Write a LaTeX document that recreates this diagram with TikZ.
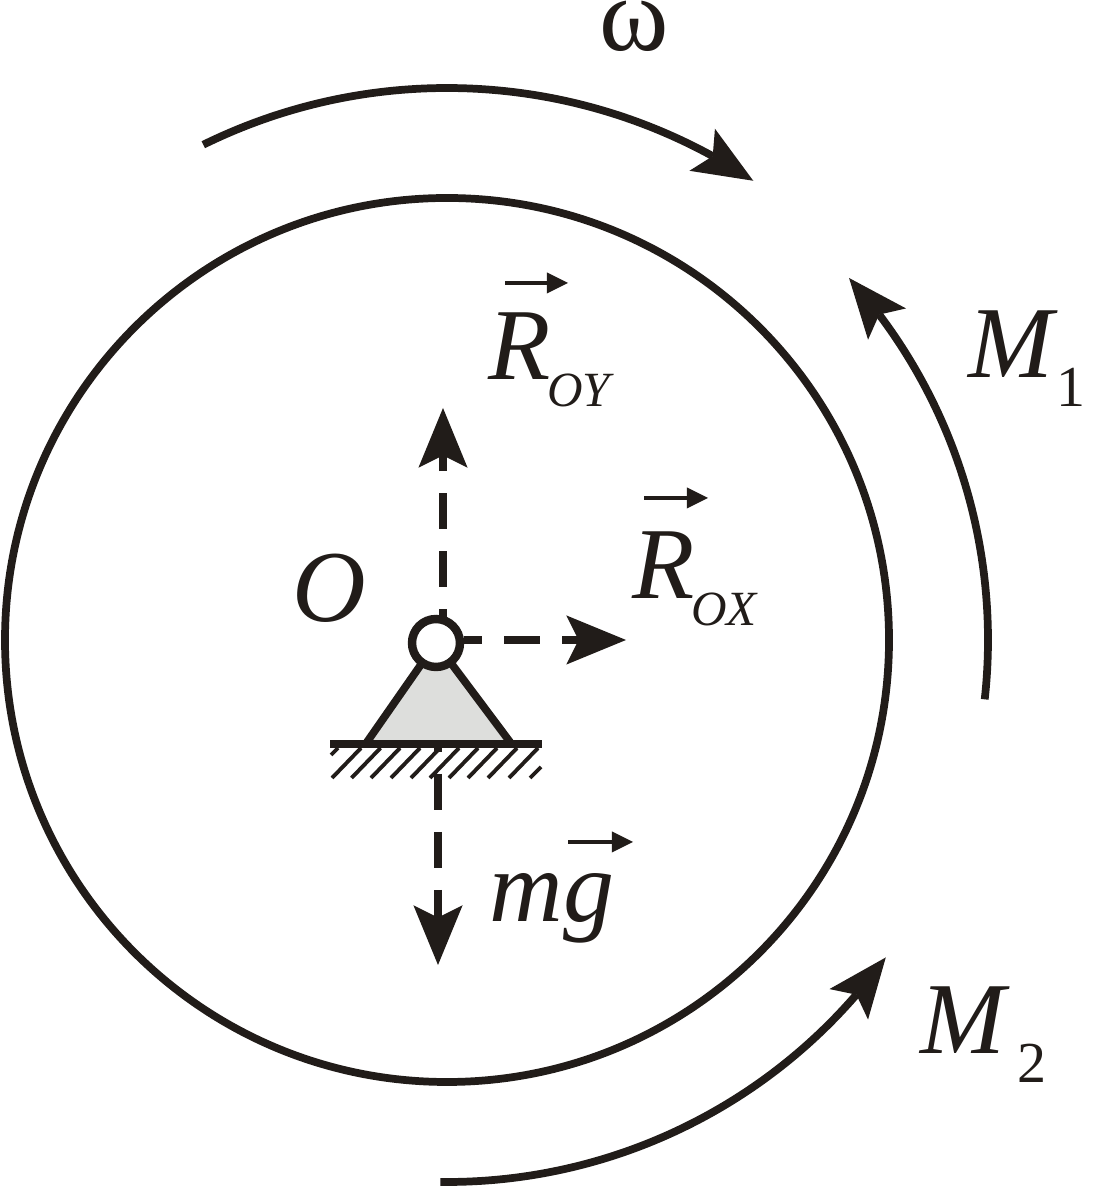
\documentclass[tikz,border=0pt]{standalone}
\usepackage{fontspec}
\setmainfont{Liberation Serif}
\usetikzlibrary{arrows.meta, bending}
\definecolor{ink}{HTML}{211C19}
\definecolor{base}{HTML}{DDDEDC}
\tikzstyle{line} = [draw=ink, line width=2.2pt]
\tikzstyle{wheel} = [circle, draw=ink, line width=2.2pt, minimum size=8.84cm, inner sep=0pt]
\tikzstyle{hinge} = [circle, draw=ink, fill=white, line width=2.4pt, minimum size=0.48cm, inner sep=0pt]
\tikzstyle{bigarrow} = [draw=ink, line width=2.2pt, -{Stealth[length=17pt,width=14pt,inset=3.5pt,line width=0pt]}]
\tikzstyle{force} = [bigarrow, dash pattern=on 36*0.2845pt off 22*0.2845pt]
\tikzstyle{vec} = [draw=ink, line width=1.1pt, -{Triangle[length=6pt,width=6pt,line width=0pt]}]
\tikzstyle{hatch} = [draw=ink, line width=1.1pt]
\tikzstyle{label} = [anchor=base west, inner sep=0pt, text=ink, font=\fontsize{29}{29}\selectfont\itshape]
\newcommand{\subtxt}[1]{\kern-1pt\raisebox{-7.5pt}{\fontsize{14}{14}\selectfont #1}}
\newcommand{\subnum}[2]{\kern#1\raisebox{-8pt}{\fontsize{16.5}{16.5}\selectfont\upshape #2}}

\begin{document}
\begin{tikzpicture}
	\useasboundingbox (0,0) rectangle (11.04,11.87);
	% wheel
	\node (rim) [wheel] at (4.47,5.47) {};
	% support
	\coordinate (apex) at (4.36,5.44);
	\coordinate (footL) at (3.67,4.45);
	\coordinate (footR) at (5.10,4.45);
	\coordinate (groundL) at (3.30,4.43);
	\coordinate (groundR) at (5.42,4.43);
	\fill [base] (footL) -- (apex) -- (footR) -- cycle;
	\draw [line] (footL) -- (apex) -- (footR);
	\foreach \x in {3.32,3.515,3.71,3.91,4.11,4.30,4.49,4.68,4.88,5.09}
		\draw [hatch] (\x,4.09) -- ++(0.29,0.30);
	\draw [hatch] (3.31,4.32) -- ++(0.07,0.07);
	\draw [hatch] (5.30,4.09) -- ++(0.11,0.11);
	\draw [line, line width=2.4pt] (groundL) -- (groundR);
	\node (hinge) [hinge] at (apex) {};
	% forces
	\coordinate (startY) at (4.43,5.70);
	\coordinate (tipY) at (4.43,7.79);
	\coordinate (tipX) at (6.26,5.47);
	\coordinate (startG) at (4.38,4.43);
	\coordinate (tipG) at (4.38,2.22);
	\draw [force, dash phase=28*0.2845pt] (startY) -- (tipY);
	\draw [force, dash phase=18*0.2845pt] (hinge.east |- rim) -- (tipX);
	\draw [force, dash phase=28*0.2845pt] (startG) -- (tipG);
	% moments
	\draw [bigarrow] ([shift={(116.2:5.52)}]rim.center) arc [start angle=116.2, end angle=56.3, radius=5.52];
	\draw [bigarrow] ([shift={(-6.3:5.41)}]rim.center) arc [start angle=-6.3, end angle=42, radius=5.41];
	\draw [bigarrow] ([shift={(-90.7:5.42)}]rim.center) arc [start angle=-90.7, end angle=-35.8, radius=5.41];
	% labels
	\node (omega) [label, font=\fontsize{30}{30}\selectfont] at (5.99,11.36) {ω};
	\node (m1) [label] at (9.68,8.09) {M\subnum{0.9pt}{1}};
	\node (m2) [label] at (9.20,1.33) {M\subnum{3.4pt}{2}};
	\node (oy) [label] at (4.88,8.07) {R\subtxt{OY}};
	\node (ox) [label] at (6.32,5.88) {R\subtxt{OX}};
	\node (o) [label] at (2.92,5.65) {O};
	\node (mg) [label] at (4.89,2.65) {mg};
	\draw [vec] ([shift={(0.17,0.97)}]oy.base west) -- ++(0.63,0);
	\draw [vec] ([shift={(0.12,1.01)}]ox.base west) -- ++(0.64,0);
	\draw [vec] ([shift={(0.79,0.80)}]mg.base west) -- ++(0.65,0);
\end{tikzpicture}
\end{document}
